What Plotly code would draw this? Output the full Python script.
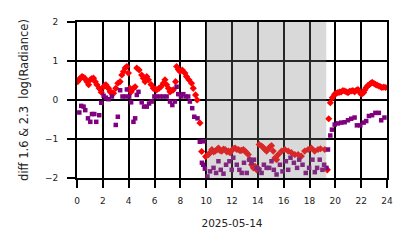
import plotly.graph_objects as go

# Red series (hours, diff log radiance)
red_hours = [0.05, 0.15, 0.26, 0.39, 0.5, 0.6, 0.77, 0.9, 1.03, 1.15, 1.28, 1.41, 1.54, 1.72, 1.88,
             2.06, 2.15, 2.24, 2.35, 2.44, 2.57, 2.7, 2.83, 3.0, 3.16, 3.34, 3.47, 3.6, 3.73, 3.86,
             3.98, 4.1, 4.19, 4.37, 4.5, 4.63, 4.81, 5.01, 5.14, 5.27, 5.4, 5.53, 5.73, 5.91, 6.05,
             6.17, 6.35, 6.5, 6.68, 6.81, 6.94, 7.08, 7.2, 7.33, 7.46, 7.63, 7.71, 7.85, 7.97, 8.15,
             8.35, 8.48, 8.66, 8.87, 9.0, 9.18, 9.3, 9.52, 9.65,
             9.96, 10.18, 10.3, 10.44, 10.57, 10.69, 10.82, 10.95, 11.08, 11.21, 11.34, 11.47, 11.6,
             11.72, 11.85, 11.98, 12.11, 12.24, 12.37, 12.49, 12.62, 12.75, 12.88, 13.0, 13.13, 13.26,
             13.39, 13.52, 13.65, 13.78, 13.91, 14.04, 14.1, 14.29, 14.42, 14.55, 14.68, 14.81, 14.94,
             15.06, 15.19, 15.32, 15.45, 15.58, 15.84, 16.09, 16.35, 16.6, 16.86, 17.12, 17.37, 17.63,
             17.89, 18.14, 18.4, 18.66, 18.85, 19.18, 19.38,
             19.49, 19.61, 19.77, 19.95, 20.07, 20.2, 20.33, 20.46, 20.59, 20.72, 20.85, 20.98, 21.1,
             21.23, 21.36, 21.49, 21.62, 21.75, 21.88, 22.0, 22.1, 22.19, 22.29, 22.39, 22.52, 22.65,
             22.75, 22.85, 22.97, 23.1, 23.23, 23.37, 23.5, 23.6, 23.75, 23.9]
red_values = [0.47, 0.52, 0.56, 0.60, 0.58, 0.56, 0.47, 0.39, 0.52, 0.55, 0.56, 0.47, 0.39, 0.30, 0.20,
              0.34, 0.37, 0.39, 0.33, 0.30, 0.21, 0.19, 0.17, 0.30, 0.43, 0.47, 0.64, 0.73, 0.82, 0.86,
              0.69, 0.30, 0.21, 0.30, 0.34, 0.82, 0.77, 0.64, 0.56, 0.47, 0.60, 0.52, 0.40, 0.30, 0.28,
              0.26, 0.30, 0.34, 0.43, 0.52, 0.39, 0.30, 0.21, 0.24, 0.26, 0.47, 0.86, 0.78, 0.73, 0.77,
              0.69, 0.60, 0.52, 0.43, 0.30, 0.13, 0.0, -0.59, -1.32,
              -1.45, -1.40, -1.35, -1.27, -1.33, -1.31, -1.28, -1.23, -1.30, -1.31, -1.26, -1.27, -1.33,
              -1.31, -1.35, -1.29, -1.25, -1.23, -1.27, -1.27, -1.30, -1.29, -1.27, -1.31, -1.35, -1.40,
              -1.53, -1.66, -1.74, -1.70, -1.79, -1.76, -1.14, -1.18, -1.22, -1.27, -1.31, -1.25, -1.20,
              -1.17, -1.31, -1.49, -1.53, -1.40, -1.31, -1.27, -1.31, -1.35, -1.40, -1.40, -1.44, -1.31,
              -1.27, -1.23, -1.31, -1.27, -1.25, -1.27, -1.79,
              -0.48, -0.07, 0.06, 0.15, 0.17, 0.19, 0.20, 0.21, 0.24, 0.23, 0.21, 0.19, 0.22,
              0.23, 0.24, 0.21, 0.25, 0.27, 0.20, 0.15, 0.17, 0.19, 0.26, 0.32, 0.37, 0.40,
              0.43, 0.45, 0.43, 0.40, 0.38, 0.36, 0.34, 0.32, 0.33, 0.32]

# Purple series
purple_hours = [0.18, 0.33, 0.51, 0.64, 0.85, 1.03, 1.16, 1.34, 1.49, 1.72, 1.88, 2.06, 2.24, 2.44, 2.7,
                3.0, 3.16, 3.34, 3.52, 3.73, 3.86, 4.04, 4.19, 4.37, 4.5, 4.63, 4.76, 5.01, 5.19, 5.4,
                5.58, 5.78, 5.99, 6.17, 6.43, 6.68, 6.94, 7.2, 7.38, 7.58, 7.71, 7.84, 8.05, 8.23, 8.41,
                8.61, 8.74, 8.92, 9.08, 9.33, 9.51, 9.67, 9.77, 9.8, 9.9,
                10.1, 10.3, 10.57, 10.77, 10.95, 11.13, 11.34, 11.54, 11.8, 11.98, 12.1, 12.37, 12.57,
                12.75, 12.93, 13.14, 13.34, 13.52, 13.7, 13.91, 14.11, 14.29, 14.47, 14.68, 14.88, 15.06,
                15.24, 15.45, 15.71, 15.91, 16.17, 16.35, 16.53, 16.79, 17.04, 17.2, 17.46, 17.71, 17.97,
                18.23, 18.41, 18.59, 18.79, 19.0, 19.13, 19.31, 19.43,
                19.61, 19.74, 19.95, 20.2, 20.46, 20.72, 20.98, 21.23, 21.49, 21.67, 21.93, 22.19, 22.39,
                22.6, 22.85, 23.1, 23.37, 23.55, 23.8]
purple_values = [-0.32, -0.15, -0.17, -0.26, -0.47, -0.56, -0.36, -0.36, -0.56, -0.39, -0.07, 0.11, 0.06,
                 0.02, 0.09, -0.64, -0.43, 0.25, 0.09, 0.09, 0.27, 0.09, -0.06, -0.56, -0.47, 0.13, 0.21,
                 -0.06, -0.17, -0.17, -0.09, -0.04, 0.09, 0.09, 0.09, 0.09, 0.09, -0.04, -0.13, -0.04, 0.34,
                 0.15, 0.09, 0.15, 0.09, 0.09, -0.04, -0.21, -0.43, -0.47, -1.07, -1.61, -1.66, -1.06, -1.76,
                 -1.96, -1.83, -1.74, -1.87, -1.57, -1.79, -1.89, -1.66, -1.57, -1.79, -1.48, -1.66, -1.79,
                 -1.87, -1.61, -1.87, -1.53, -1.61, -1.53, -1.74, -1.79, -1.87, -1.66, -1.74, -1.74, -1.57,
                 -1.79, -1.91, -1.66, -1.83, -1.57, -1.79, -1.48, -1.61, -1.74, -1.53, -1.66, -1.87, -1.74,
                 -1.53, -1.85, -1.74, -1.53, -1.79, -1.66, -1.74, -1.27,
                 -0.91, -0.76, -0.63, -0.60, -0.58, -0.57, -0.52, -0.48, -0.45, -0.65, -0.65, -0.58, -0.54,
                 -0.41, -0.39, -0.33, -0.33, -0.52, -0.45]

shade_start = 10.0
shade_end = 19.3

x_ticks = list(range(0, 25, 2))
y_ticks = [-2, -1, 0, 1, 2]

fig = go.Figure()
fig.add_trace(go.Scatter(x=red_hours, y=red_values, mode="markers",
                         marker=dict(symbol="diamond", size=5.5, color="red", line=dict(width=0)),
                         showlegend=False))
fig.add_trace(go.Scatter(x=purple_hours, y=purple_values, mode="markers",
                         marker=dict(symbol="square", size=4.5, color="purple", line=dict(width=0)),
                         showlegend=False))

fig.add_shape(type="rect", xref="x", yref="paper", x0=shade_start, x1=shade_end, y0=0, y1=1,
              fillcolor="gray", opacity=0.3, line=dict(width=0), layer="above")

font = dict(family="DejaVu Sans", size=9, color="#222")
fig.update_layout(
    width=414, height=248,
    margin=dict(l=77, r=27, t=22, b=70),
    plot_bgcolor="white", paper_bgcolor="white",
    font=font,
)
fig.update_xaxes(range=[0, 24], tickvals=x_ticks, ticktext=[str(t) for t in x_ticks],
                 showgrid=True, gridcolor="black", gridwidth=2,
                 zeroline=False, showline=True, mirror=True, linecolor="black", linewidth=2,
                 ticks="outside", ticklen=8, tickwidth=2, tickcolor="black",
                 ticklabelstandoff=5,
                 title=dict(text="2025-05-14", font=dict(size=10.5), standoff=15))
fig.update_yaxes(range=[-2, 2], tickvals=y_ticks,
                 showgrid=True, gridcolor="black", gridwidth=2,
                 zeroline=True, zerolinecolor="black", zerolinewidth=2,
                 showline=True, mirror=True, linecolor="black", linewidth=2,
                 ticks="outside", ticklen=8, tickwidth=2, tickcolor="black",
                 ticklabelstandoff=7,
                 title=dict(text="diff 1.6 & 2.3  log(Radiance)", font=dict(size=11.5), standoff=14))

fig.write_html("out.html")
